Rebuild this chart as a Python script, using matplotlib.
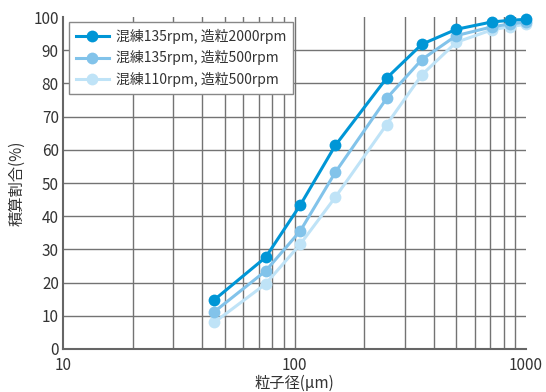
import matplotlib
matplotlib.use("Agg")
import matplotlib.pyplot as plt
from matplotlib.ticker import FixedLocator, NullFormatter

plt.rcParams['font.family'] = ['Noto Sans CJK JP', 'DejaVu Sans']

# Sieve opening sizes (µm)
sizes = [45, 75, 106, 150, 250, 355, 500, 710, 850, 1000]

# Cumulative passing ratio (%) for each condition
series_names = ["混練135rpm, 造粒2000rpm", "混練135rpm, 造粒500rpm", "混練110rpm, 造粒500rpm"]
cum_135_2000 = [14.8, 27.6, 43.4, 61.3, 81.6, 91.8, 96.3, 98.5, 99.0, 99.3]
cum_135_500 = [11.2, 23.5, 35.6, 53.2, 75.5, 87.2, 94.4, 97.0, 97.9, 98.5]
cum_110_500 = [8.0, 19.6, 31.6, 45.7, 67.6, 82.6, 92.4, 96.1, 97.1, 97.8]

y_ticks = [0, 10, 20, 30, 40, 50, 60, 70, 80, 90, 100]
x_ticks = [10, 100, 1000]
x_tick_labels = ["10", "100", "1000"]

colors = ["#0096d6", "#82c3ea", "#bfe3f7"]
all_series = [cum_135_2000, cum_135_500, cum_110_500]

fig = plt.figure(figsize=(5.46, 3.92), dpi=100)
ax = fig.add_axes([0.1154, 0.1097, 0.8480, 0.8469])

ax.set_xscale("log")
ax.set_xlim(10, 1000)
ax.set_ylim(0, 100)

grid_color = "#737373"
# vertical grid at log minor positions
minor_positions = [m * d for d in (10, 100) for m in range(2, 10)]
for xv in minor_positions + [100]:
    ax.axvline(xv, color=grid_color, lw=1.0, zorder=1)
# horizontal grid every 10 %
for yv in y_ticks[1:-1]:
    ax.axhline(yv, color=grid_color, lw=1.0, zorder=1)

handles = [None] * 3
for i in (2, 1, 0):
    (ln,) = ax.plot(sizes, all_series[i], color=colors[i], lw=2.2,
                    marker="o", markersize=8.5, markeredgewidth=0,
                    label=series_names[i], zorder=3 + (2 - i), clip_on=False)
    handles[i] = ln

ax.xaxis.set_major_locator(FixedLocator(x_ticks))
ax.xaxis.set_minor_locator(FixedLocator(minor_positions))
ax.xaxis.set_minor_formatter(NullFormatter())
ax.set_xticklabels(x_tick_labels)
ax.set_yticks(y_ticks)
ax.tick_params(axis="both", which="both", length=0, labelsize=11, colors="#333333", pad=3)
ax.tick_params(axis="x", pad=6)

for side in ("top", "right"):
    ax.spines[side].set_visible(False)
for side in ("left", "bottom"):
    ax.spines[side].set_color("#666666")
    ax.spines[side].set_linewidth(1.5)

ax.set_ylabel("積算割合(%)", fontsize=11, color="#333333", labelpad=6)
ax.set_xlabel("粒子径(μm)", fontsize=11, color="#333333", labelpad=0)

leg = ax.legend(handles=handles, labels=series_names, loc="upper left",
                bbox_to_anchor=(0.012, 0.985), fontsize=10, frameon=True,
                fancybox=False, edgecolor="#888888", framealpha=1,
                handlelength=2.4, handletextpad=0.5, borderpad=0.5,
                labelspacing=0.45, borderaxespad=0.0)
leg.get_frame().set_linewidth(1.0)
for t in leg.get_texts():
    t.set_color("#333333")

fig.savefig("out.png", dpi=100, facecolor="white")
